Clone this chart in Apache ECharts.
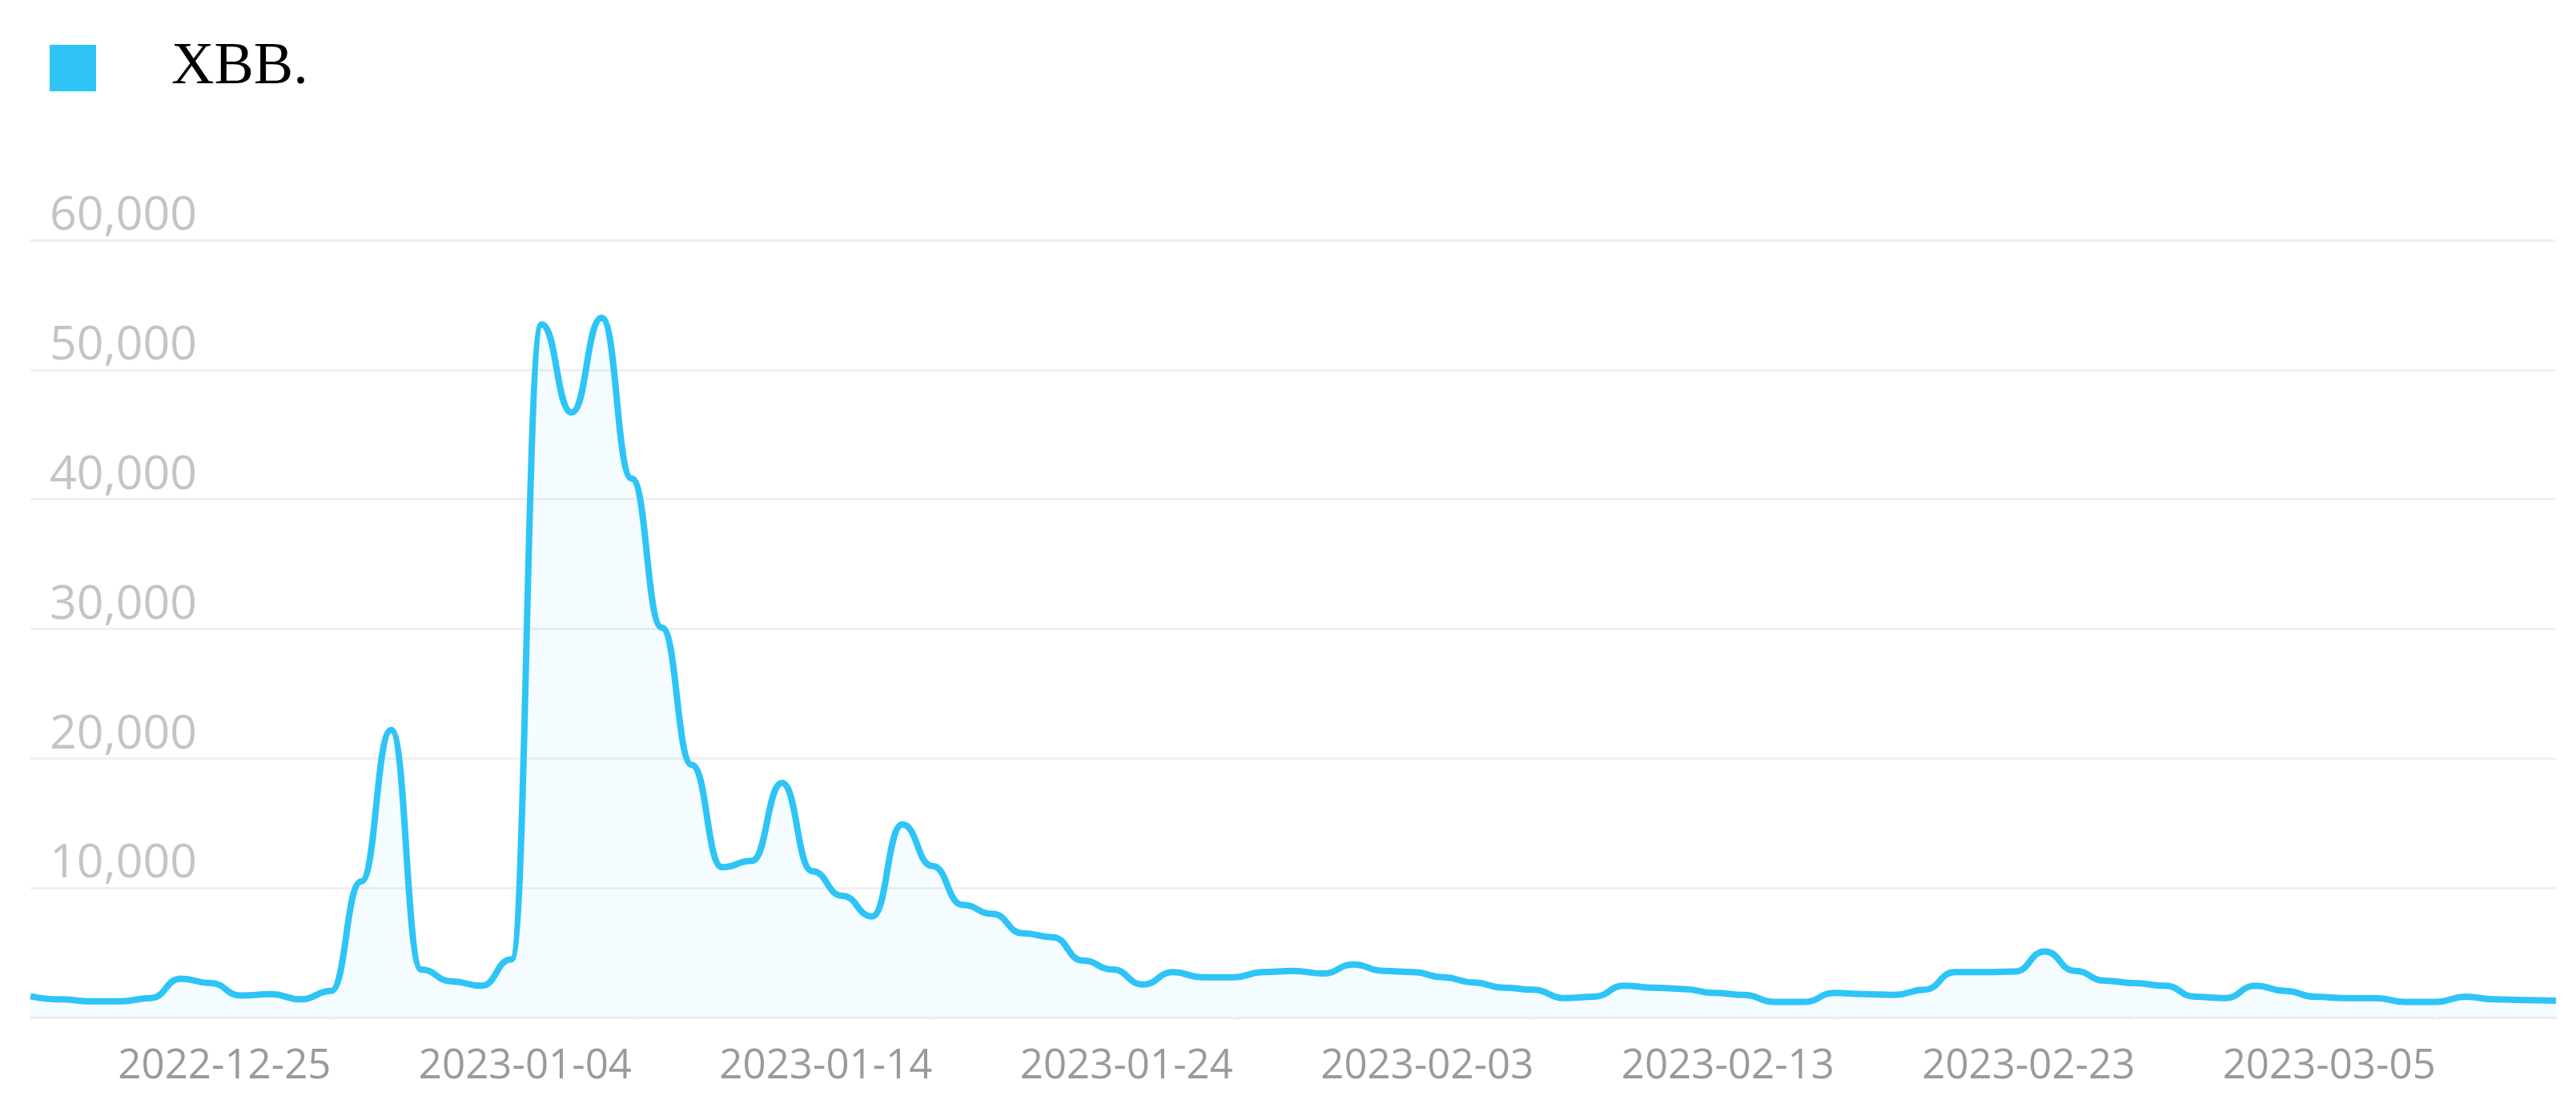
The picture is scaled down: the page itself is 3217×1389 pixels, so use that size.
<!DOCTYPE html>
<html>
<head>
<meta charset="utf-8">
<title>XBB.</title>
<script src="https://cdn.jsdelivr.net/npm/echarts@6/dist/echarts.min.js"></script>
<style>
  html, body { margin: 0; padding: 0; background: #fff; }
  #main { width: 3217px; height: 1389px; }
</style>
</head>
<body>
<div id="main"></div>
<script>
  // daily categories, 2022-12-15 .. 2023-03-09
  var dates = [
    '2022-12-15', '2022-12-16', '2022-12-17', '2022-12-18', '2022-12-19', '2022-12-20', '2022-12-21',
    '2022-12-22', '2022-12-23', '2022-12-24', '2022-12-25', '2022-12-26', '2022-12-27', '2022-12-28',
    '2022-12-29', '2022-12-30', '2022-12-31', '2023-01-01', '2023-01-02', '2023-01-03', '2023-01-04',
    '2023-01-05', '2023-01-06', '2023-01-07', '2023-01-08', '2023-01-09', '2023-01-10', '2023-01-11',
    '2023-01-12', '2023-01-13', '2023-01-14', '2023-01-15', '2023-01-16', '2023-01-17', '2023-01-18',
    '2023-01-19', '2023-01-20', '2023-01-21', '2023-01-22', '2023-01-23', '2023-01-24', '2023-01-25',
    '2023-01-26', '2023-01-27', '2023-01-28', '2023-01-29', '2023-01-30', '2023-01-31', '2023-02-01',
    '2023-02-02', '2023-02-03', '2023-02-04', '2023-02-05', '2023-02-06', '2023-02-07', '2023-02-08',
    '2023-02-09', '2023-02-10', '2023-02-11', '2023-02-12', '2023-02-13', '2023-02-14', '2023-02-15',
    '2023-02-16', '2023-02-17', '2023-02-18', '2023-02-19', '2023-02-20', '2023-02-21', '2023-02-22',
    '2023-02-23', '2023-02-24', '2023-02-25', '2023-02-26', '2023-02-27', '2023-02-28', '2023-03-01',
    '2023-03-02', '2023-03-03', '2023-03-04', '2023-03-05', '2023-03-06', '2023-03-07', '2023-03-08',
    '2023-03-09'
  ];

  var xbbData = [
    1650, 1400, 1250, 1250, 1500, 3000, 2650, 1700, 1800, 1400,
    2050, 10500, 22200, 3700, 2800, 2450, 4500, 53500, 46700, 54000,
    41600, 30100, 19500, 11600, 12100, 18100, 11300, 9400, 7800, 14900,
    11700, 8700, 8000, 6500, 6200, 4400, 3700, 2550, 3500, 3100,
    3100, 3500, 3600, 3400, 4100, 3600, 3500, 3100, 2700, 2300,
    2150, 1500, 1600, 2450, 2300, 2200, 1900, 1750, 1200, 1200,
    1900, 1800, 1750, 2150, 3500, 3500, 3550, 5100, 3600, 2850,
    2650, 2450, 1600, 1500, 2450, 2050, 1600, 1500, 1500, 1200,
    1200, 1600, 1400, 1350, 1300
  ];

  var yTicks = [0, 10000, 20000, 30000, 40000, 50000, 60000];

  var seriesName = 'XBB.';
  var lineColor = '#2ec4f6';

  // every 10th day gets a label / tick, the first one stays hidden
  function everyTenth(index) {
    return index > 0 && index % 10 === 0;
  }

  var chart = echarts.init(document.getElementById('main'));

  var option = {
    backgroundColor: '#ffffff',
    animation: false,
    legend: {
      data: [seriesName],
      left: 62,
      top: 48,
      padding: 0,
      icon: 'rect',
      itemWidth: 58,
      itemHeight: 58,
      textStyle: {
        fontFamily: 'Liberation Serif',
        fontSize: 74,
        color: '#000000',
        padding: [0, 0, 22, 89]
      }
    },
    grid: {
      left: 38,
      right: 25,
      top: 300,
      bottom: 118,
      containLabel: false
    },
    xAxis: {
      type: 'category',
      boundaryGap: false,
      data: dates,
      axisLine: {
        lineStyle: { color: '#ececec', width: 3 }
      },
      axisTick: {
        show: true,
        inside: true,
        length: 6,
        interval: everyTenth,
        lineStyle: { color: '#ffffff', width: 3 }
      },
      axisLabel: {
        interval: everyTenth,
        align: 'right',
        margin: 36,
        color: '#9a9a9a',
        fontFamily: 'Open Sans',
        fontSize: 51
      },
      splitLine: { show: false }
    },
    yAxis: {
      type: 'value',
      min: yTicks[0],
      max: yTicks[yTicks.length - 1],
      interval: yTicks[1] - yTicks[0],
      axisLine: { show: false },
      axisTick: { show: false },
      axisLabel: {
        inside: true,
        showMinLabel: false,
        margin: 24,
        verticalAlign: 'bottom',
        padding: [0, 0, 0, 0],
        color: '#c4c4c4',
        fontFamily: 'Open Sans',
        fontSize: 59,
        formatter: function (val) {
          return val.toLocaleString('en-US');
        }
      },
      splitLine: {
        lineStyle: { color: '#f0f0f0', width: 3 }
      }
    },
    series: [
      {
        name: seriesName,
        type: 'line',
        smooth: true,
        smoothMonotone: 'x',
        showSymbol: false,
        data: xbbData,
        itemStyle: { color: lineColor },
        lineStyle: { color: lineColor, width: 8 },
        areaStyle: { color: 'rgba(46,196,246,0.075)' }
      }
    ]
  };

  option && chart.setOption(option);
</script>
</body>
</html>
